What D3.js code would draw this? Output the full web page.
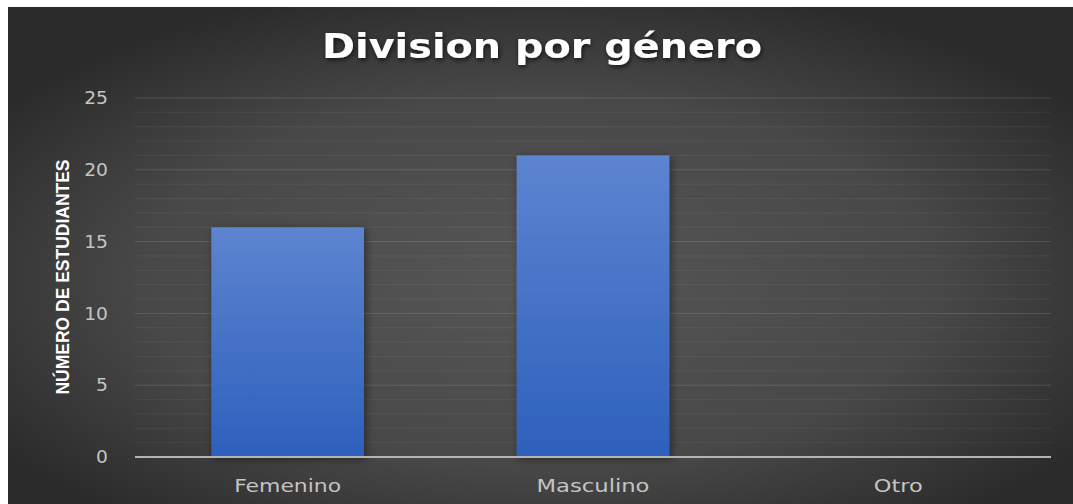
<!DOCTYPE html>
<html lang="es">
<head>
  <meta charset="UTF-8">
  <title>Division por género</title>
  <script src="https://d3js.org/d3.v7.min.js"></script>
  <style>
    body { margin: 0; padding: 0; background: #fff; }
    svg { display: block; }
  </style>
</head>
<body>
  <div id="chart"></div>
  <script>
    const categories = ["Femenino", "Masculino", "Otro"]
    const values = [16, 21, 0]
    const majorTicks = [0, 5, 10, 15, 20, 25]
    const minorTicks = d3.range(0, 26, 1)
    const labelWidths = [107, 113, 49]

    const width = 1073, height = 504
    const margin = {top: 98, right: 22, bottom: 47, left: 135}

    const svg = d3.select("#chart").append("svg")
      .attr("width", width)
      .attr("height", height)

    const defs = svg.append("defs")

    const bg = defs.append("radialGradient")
      .attr("id", "bg")
      .attr("cx", "50%").attr("cy", "55%").attr("r", "62%")
    bg.append("stop").attr("offset", "0%").attr("stop-color", "#565656")
    bg.append("stop").attr("offset", "60%").attr("stop-color", "#484848")
    bg.append("stop").attr("offset", "100%").attr("stop-color", "#2a2a2a")

    const barGrad = defs.append("linearGradient")
      .attr("id", "barGrad")
      .attr("x1", 0).attr("y1", 0).attr("x2", 0).attr("y2", 1)
    barGrad.append("stop").attr("offset", "0%").attr("stop-color", "#5d84d0")
    barGrad.append("stop").attr("offset", "100%").attr("stop-color", "#2d60bd")

    const shadow = defs.append("filter").attr("id", "shadow")
      .attr("x", "-20%").attr("y", "-20%").attr("width", "140%").attr("height", "140%")
    shadow.append("feDropShadow")
      .attr("dx", 2).attr("dy", 2).attr("stdDeviation", 4)
      .attr("flood-color", "#000").attr("flood-opacity", 0.45)

    const tshadow = defs.append("filter").attr("id", "tshadow")
      .attr("x", "-10%").attr("y", "-30%").attr("width", "120%").attr("height", "160%")
    tshadow.append("feDropShadow")
      .attr("dx", 1).attr("dy", 2).attr("stdDeviation", 2.5)
      .attr("flood-color", "#000").attr("flood-opacity", 0.7)

    svg.append("rect")
      .attr("x", 8).attr("y", 7)
      .attr("width", width - 8).attr("height", height - 7)
      .attr("fill", "url(#bg)")

    const x = d3.scaleBand()
      .domain(categories)
      .range([margin.left, width - margin.right])
      .paddingInner(0.5)
      .paddingOuter(0.25)

    const y = d3.scaleLinear()
      .domain([0, 25])
      .range([height - margin.bottom, margin.top])

    // minor grid
    svg.append("g").selectAll("line")
      .data(minorTicks.filter(d => d % 5 !== 0))
      .join("line")
      .attr("x1", margin.left).attr("x2", width - margin.right)
      .attr("y1", d => y(d)).attr("y2", d => y(d))
      .attr("stroke", "#ffffff").attr("stroke-opacity", 0.06)
      .attr("stroke-width", 1)

    // major grid
    svg.append("g").selectAll("line")
      .data(majorTicks.filter(d => d !== 0))
      .join("line")
      .attr("x1", margin.left).attr("x2", width - margin.right)
      .attr("y1", d => y(d)).attr("y2", d => y(d))
      .attr("stroke", "#ffffff").attr("stroke-opacity", 0.13)
      .attr("stroke-width", 1)

    // bars
    svg.append("g").selectAll("rect")
      .data(values)
      .join("rect")
      .attr("x", (d, i) => x(categories[i]))
      .attr("y", d => y(d))
      .attr("width", x.bandwidth())
      .attr("height", d => y(0) - y(d))
      .attr("fill", "url(#barGrad)")
      .attr("filter", "url(#shadow)")

    // x axis line
    svg.append("line")
      .attr("x1", margin.left).attr("x2", width - margin.right)
      .attr("y1", y(0)).attr("y2", y(0))
      .attr("stroke", "#b4b4b4").attr("stroke-width", 2)

    // y tick labels
    svg.append("g").selectAll("text")
      .data(majorTicks)
      .join("text")
      .attr("x", 108)
      .attr("y", d => y(d))
      .attr("dy", "0.36em")
      .attr("text-anchor", "end")
      .attr("fill", "#c4c4c4")
      .style("font-family", "DejaVu Sans")
      .style("font-size", "17px")
      .attr("transform", "translate(108,0) scale(1.1,1) translate(-108,0)")
      .text(d => d)

    // x labels
    svg.append("g").selectAll("text")
      .data(categories)
      .join("text")
      .attr("x", (d, i) => x(d) + x.bandwidth() / 2 - labelWidths[i] / 2)
      .attr("y", 492)
      .attr("fill", "#c4c4c4")
      .style("font-family", "DejaVu Sans")
      .style("font-size", "17.5px")
      .attr("textLength", (d, i) => labelWidths[i])
      .attr("lengthAdjust", "spacingAndGlyphs")
      .text(d => d)

    // y axis title
    svg.append("text")
      .attr("transform", "translate(69,277) rotate(-90)")
      .attr("text-anchor", "middle")
      .attr("fill", "#ffffff")
      .style("font-family", "Liberation Sans Narrow, Liberation Sans")
      .style("font-weight", "bold")
      .style("font-size", "19px")
      .attr("textLength", 235)
      .attr("lengthAdjust", "spacingAndGlyphs")
      .text("NÚMERO DE ESTUDIANTES")

    // title
    svg.append("text")
      .attr("x", 322)
      .attr("y", 58)
      .attr("fill", "#ffffff")
      .attr("filter", "url(#tshadow)")
      .style("font-family", "DejaVu Sans")
      .style("font-weight", "bold")
      .style("font-size", "33px")
      .attr("textLength", 440)
      .attr("lengthAdjust", "spacingAndGlyphs")
      .text("Division por género")
  </script>
</body>
</html>
